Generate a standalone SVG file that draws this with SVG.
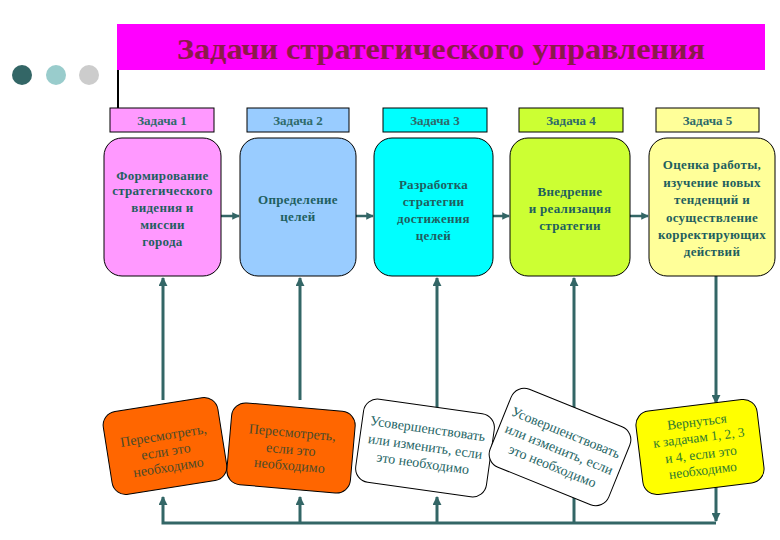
<svg xmlns="http://www.w3.org/2000/svg" width="780" height="540" viewBox="0 0 780 540">
<style>
text{font-family:"Liberation Serif","Times New Roman","DejaVu Serif",serif}
.lbl{stroke:#000;stroke-width:1}
.lt{font-size:13px;font-weight:bold;fill:#2f6b6b;text-anchor:middle}
.box{stroke:#000;stroke-width:1}
.bt{font-size:13px;font-weight:bold;fill:#1f5f5f;text-anchor:middle;letter-spacing:0.3px}
.con{stroke:#336666;stroke-width:3;fill:none}
.con2{stroke:#336666;stroke-width:2.5;fill:none}
.rb{stroke:#000;stroke-width:1}
.ot{font-size:14px;fill:#4a4a2a;text-anchor:middle}
.wt{font-size:14px;fill:#1f6666;text-anchor:middle}
.yt{font-size:13.5px;fill:#2f7a2f;text-anchor:middle}
.title{font-size:30px;font-weight:bold;fill:#8b1a4a;text-anchor:middle}
</style>
<defs>
<marker id="ah" viewBox="0 0 10 10" refX="9" refY="5" markerWidth="3" markerHeight="3" orient="auto" markerUnits="strokeWidth">
<path d="M0,0 L10,5 L0,10 z" fill="#336666"/>
</marker>
</defs>
<rect width="780" height="540" fill="#fff"/>
<g id="header">
<circle cx="22" cy="75" r="10" fill="#336666"/>
<circle cx="56" cy="75" r="10" fill="#99cccc"/>
<circle cx="89" cy="75" r="10" fill="#cccccc"/>
<rect x="117" y="24" width="648" height="46" fill="#ff00ff"/>
<text class="title" x="441" y="59" textLength="528" lengthAdjust="spacingAndGlyphs">Задачи стратегического управления</text>
<line x1="118" y1="70" x2="118" y2="108" stroke="#000" stroke-width="2"/>
</g>
<g id="connectors">
<line class="con2" x1="221" y1="216" x2="239" y2="216" marker-end="url(#ah)"/>
<line class="con2" x1="356" y1="216" x2="373" y2="216" marker-end="url(#ah)"/>
<line class="con2" x1="493" y1="216" x2="509" y2="216" marker-end="url(#ah)"/>
<line class="con2" x1="630" y1="216" x2="648" y2="216" marker-end="url(#ah)"/>
<line class="con" x1="163" y1="400" x2="163" y2="278" marker-end="url(#ah)"/>
<line class="con" x1="300" y1="400" x2="300" y2="278" marker-end="url(#ah)"/>
<line class="con" x1="437" y1="420" x2="437" y2="278" marker-end="url(#ah)"/>
<line class="con" x1="574" y1="523" x2="574" y2="278" marker-end="url(#ah)"/>
<line class="con" x1="716" y1="276" x2="716" y2="403" marker-end="url(#ah)"/>
<path class="con" d="M716,523 L163,523 L163,497" marker-end="url(#ah)"/>
<line class="con" x1="300" y1="523" x2="300" y2="497" marker-end="url(#ah)"/>
<line class="con" x1="437" y1="523" x2="437" y2="497" marker-end="url(#ah)"/>
<line class="con" x1="716" y1="480" x2="716" y2="521" marker-end="url(#ah)"/>
</g>
<g id="task1">
<rect class="lbl" x="110" y="108" width="104" height="24" fill="#ff99ff"/>
<text class="lt" x="162" y="125">Задача 1</text>
<rect class="box" x="104" y="138" width="117" height="138" rx="18" fill="#ff99ff"/>
<text class="bt" x="162.5" y="180">Формирование</text>
<text class="bt" x="162.5" y="195">стратегического</text>
<text class="bt" x="162.5" y="212">видения и</text>
<text class="bt" x="162.5" y="229">миссии</text>
<text class="bt" x="162.5" y="246">города</text>
</g>
<g id="task2">
<rect class="lbl" x="247" y="108" width="102" height="24" fill="#99ccff"/>
<text class="lt" x="298" y="125">Задача 2</text>
<rect class="box" x="240" y="138" width="116" height="138" rx="18" fill="#99ccff"/>
<text class="bt" x="298" y="204">Определение</text>
<text class="bt" x="298" y="221">целей</text>
</g>
<g id="task3">
<rect class="lbl" x="383" y="108" width="104" height="24" fill="#00ffff"/>
<text class="lt" x="435" y="125">Задача 3</text>
<rect class="box" x="374" y="138" width="119" height="138" rx="18" fill="#00ffff"/>
<text class="bt" x="433.5" y="189">Разработка</text>
<text class="bt" x="433.5" y="206">стратегии</text>
<text class="bt" x="433.5" y="223">достижения</text>
<text class="bt" x="433.5" y="240">целей</text>
</g>
<g id="task4">
<rect class="lbl" x="519" y="108" width="104" height="24" fill="#ccff33"/>
<text class="lt" x="571" y="125">Задача 4</text>
<rect class="box" x="510" y="138" width="120" height="138" rx="18" fill="#ccff33"/>
<text class="bt" x="570" y="196">Внедрение</text>
<text class="bt" x="570" y="213">и реализация</text>
<text class="bt" x="570" y="230">стратегии</text>
</g>
<g id="task5">
<rect class="lbl" x="656" y="108" width="103" height="24" fill="#ffff99"/>
<text class="lt" x="707.5" y="125">Задача 5</text>
<rect class="box" x="649" y="138" width="126" height="138" rx="18" fill="#ffff99"/>
<text class="bt" x="712" y="169">Оценка работы,</text>
<text class="bt" x="712" y="187">изучение новых</text>
<text class="bt" x="712" y="204">тенденций и</text>
<text class="bt" x="712" y="222">осуществление</text>
<text class="bt" x="712" y="239">корректирующих</text>
<text class="bt" x="712" y="256">действий</text>
</g>
<g id="review1" transform="translate(165,446) rotate(-9)">
<rect class="rb" x="-58" y="-42" width="116" height="84" rx="14" fill="#ff6600"/>
<text class="ot" x="0" y="-6">Пересмотреть,</text>
<text class="ot" x="0" y="10">если это</text>
<text class="ot" x="0" y="26">необходимо</text>
</g>
<g id="review2" transform="translate(291,448) rotate(5)">
<rect class="rb" x="-62" y="-41" width="124" height="82" rx="14" fill="#ff6600"/>
<text class="ot" x="0" y="-11">Пересмотреть,</text>
<text class="ot" x="0" y="6">если это</text>
<text class="ot" x="0" y="22">необходимо</text>
</g>
<g id="improve1" transform="translate(425,448) rotate(8)">
<rect class="rb" x="-66" y="-42" width="132" height="84" rx="14" fill="#ffffff"/>
<text class="wt" x="0" y="-15">Усовершенствовать</text>
<text class="wt" x="0" y="3">или изменить, если</text>
<text class="wt" x="0" y="20">это необходимо</text>
</g>
<g id="improve2" transform="translate(560,447) rotate(22)">
<rect class="rb" x="-64" y="-42" width="128" height="84" rx="14" fill="#ffffff"/>
<text class="wt" x="0" y="-11">Усовершенствовать</text>
<text class="wt" x="0" y="7">или изменить, если</text>
<text class="wt" x="0" y="25">это необходимо</text>
</g>
<g id="return" transform="translate(700,447) rotate(-7)">
<rect class="rb" x="-61" y="-42" width="122" height="84" rx="14" fill="#ffff00"/>
<text class="yt" x="0" y="-21">Вернуться</text>
<text class="yt" x="0" y="-5">к задачам 1, 2, 3</text>
<text class="yt" x="0" y="12">и 4, если это</text>
<text class="yt" x="0" y="28">необходимо</text>
</g>
</svg>
